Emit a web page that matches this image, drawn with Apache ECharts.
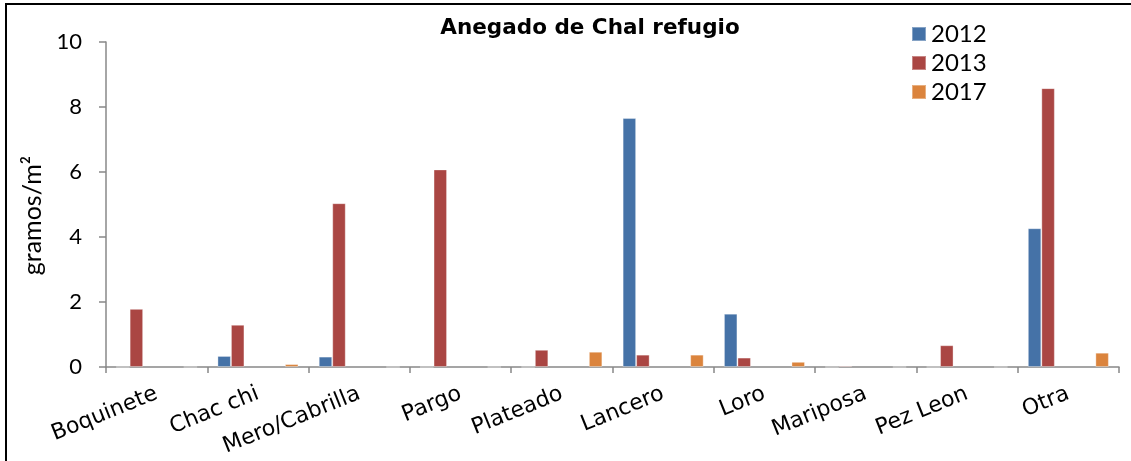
<!DOCTYPE html>
<html>
<head>
<meta charset="utf-8">
<script src="https://cdn.jsdelivr.net/npm/echarts@6/dist/echarts.min.js"></script>
<style>
  html, body { margin: 0; padding: 0; background: #fff; }
  #chart { width: 1131px; height: 461px; }
</style>
</head>
<body>
<div id="chart"></div>
<script>
// Species captured at the Chal refuge, biomass per square metre
const categories = ['Boquinete', 'Chac chi', 'Mero/Cabrilla', 'Pargo', 'Plateado',
                    'Lancero', 'Loro', 'Mariposa', 'Pez Leon', 'Otra'];
const years = ['2012', '2013', '2017'];
const values2012 = [0, 0.34, 0.32, 0, 0, 7.66, 1.64, 0, 0, 4.27];
const values2013 = [1.79, 1.30, 5.04, 6.08, 0.53, 0.38, 0.29, 0.04, 0.67, 8.58];
const values2017 = [0, 0.09, 0, 0, 0.47, 0.38, 0.16, 0, 0, 0.44];
const yTicks = [0, 2, 4, 6, 8, 10];

// Slots between 2013 and 2017 are kept empty so bars keep their group positions
const emptySlots = 3;

const colors = { '2012': '#4572A7', '2013': '#AA4643', '2017': '#DB843D' };

function barSeries(name, data, color) {
  return {
    name: name,
    type: 'bar',
    data: data,
    barGap: '0%',
    barCategoryGap: '20%',
    itemStyle: { color: color, borderColor: 'rgba(255,255,255,0.35)', borderWidth: 1 },
    emphasis: { disabled: true }
  };
}

const series = [
  barSeries(years[0], values2012, colors['2012']),
  barSeries(years[1], values2013, colors['2013'])
];
for (let i = 0; i < emptySlots; i++) {
  series.push(barSeries('slot' + i, [], '#ffffff'));
}
series.push(barSeries(years[2], values2017, colors['2017']));

const chart = echarts.init(document.getElementById('chart'), null, { renderer: 'canvas' });
chart.setOption({
  animation: false,
  backgroundColor: '#ffffff',
  title: {
    text: 'Anegado de Chal refugio',
    left: 585,
    textAlign: 'center',
    top: 12,
    textStyle: { fontFamily: 'DejaVu Sans', fontWeight: 'bold', fontSize: 21.5, color: '#000' }
  },
  legend: {
    data: years,
    orient: 'vertical',
    left: 906,
    top: 17,
    itemWidth: 14,
    itemHeight: 14,
    itemGap: 5,
    icon: 'rect',
    textStyle: { fontFamily: 'Lato', fontSize: 24, color: '#000', lineHeight: 24 }
  },
  grid: { left: 106, right: 12, top: 42, bottom: 94, containLabel: false },
  xAxis: {
    type: 'category',
    data: categories,
    axisLine: { lineStyle: { color: '#888', width: 1.5 } },
    axisTick: { show: true, length: 6, alignWithLabel: false, lineStyle: { color: '#888', width: 1.5 } },
    axisLabel: {
      rotate: 22,
      margin: 26,
      interval: 0,
      fontFamily: 'DejaVu Sans',
      fontSize: 22,
      color: '#000'
    },
    splitLine: { show: false }
  },
  yAxis: {
    type: 'value',
    min: yTicks[0],
    max: yTicks[yTicks.length - 1],
    interval: 2,
    name: 'gramos/m²',
    nameLocation: 'middle',
    nameGap: 58,
    nameRotate: 90,
    nameTextStyle: { fontFamily: 'Lato', fontSize: 25, color: '#000', padding: [0, 22, 0, 0] },
    axisLine: { show: true, lineStyle: { color: '#888', width: 1.5 } },
    axisTick: { show: true, length: 7, lineStyle: { color: '#888', width: 1.5 } },
    axisLabel: { margin: 24, fontFamily: 'Lato', fontSize: 22, color: '#000' },
    splitLine: { show: false }
  },
  graphic: [
    { type: 'rect', shape: { x: 5, y: 3, width: 1126, height: 2 }, style: { fill: '#000' }, silent: true },
    { type: 'rect', shape: { x: 5, y: 3, width: 2, height: 458 }, style: { fill: '#000' }, silent: true }
  ],
  series: series
});
</script>
</body>
</html>
